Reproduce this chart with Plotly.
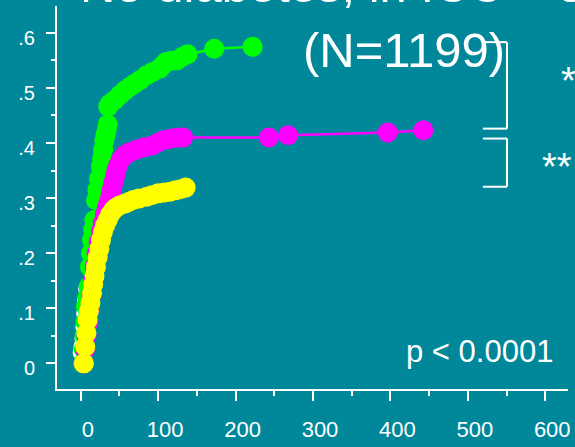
import plotly.graph_objects as go

# Cumulative incidence by group (days vs. proportion)
green_x = [3, 4, 5, 6, 6.7, 8.5, 10.2, 11.9, 13.2, 14.5, 16, 17.5, 19.6, 21.5, 23.5, 26, 27.5, 29,
           30.4, 32, 33.4, 34.8, 35.5, 37.7, 44, 50.6, 57, 63.6, 70, 76.5, 85, 93, 102, 106, 110,
           117, 124, 131, 138, 172.4, 222]
green_y = [0, 0.025, 0.05, 0.075, 0.103, 0.12, 0.139, 0.175, 0.2, 0.224, 0.242, 0.26, 0.296, 0.315,
           0.335, 0.357, 0.372, 0.388, 0.405, 0.415, 0.423, 0.434, 0.466, 0.471, 0.478, 0.487, 0.495,
           0.502, 0.508, 0.514, 0.523, 0.529, 0.535, 0.541, 0.547, 0.549, 0.55, 0.556, 0.561, 0.571,
           0.5746]

magenta_x = [4, 5.5, 7.5, 10, 12, 14, 16, 18, 20.5, 23, 26, 28.5, 31, 33.5, 35.5, 38, 39.9,
             42, 44.2, 46, 48.4, 52, 57.1, 63, 72, 82, 92, 99, 106.6, 114, 121.7, 127, 132.3, 243,
             267.7, 396.5, 442.5]
magenta_y = [0, 0.025, 0.05, 0.075, 0.1, 0.125, 0.15, 0.175, 0.2, 0.22, 0.24, 0.255, 0.27, 0.28,
             0.29, 0.303, 0.315, 0.328, 0.339, 0.35, 0.36, 0.37, 0.378, 0.383, 0.388, 0.392, 0.395,
             0.4, 0.405, 0.407, 0.409, 0.41, 0.41, 0.41, 0.414, 0.419, 0.423]

yellow_x = [4, 5.8, 7.3, 8.9, 10.5, 12.5, 14.5, 16, 17.8, 19.6, 21.8, 24, 26.1, 28.5, 31.5, 34.7, 38,
            42, 46, 50.6, 57, 62, 67.8, 75, 85.1, 92, 100.1, 108, 115.2, 122, 129, 135.5]
yellow_y = [0, 0.03, 0.055, 0.079, 0.095, 0.11, 0.127, 0.143, 0.159, 0.175, 0.192, 0.208, 0.224,
            0.238, 0.25, 0.26, 0.27, 0.278, 0.283, 0.287, 0.29, 0.293, 0.2964, 0.299, 0.3024, 0.305,
            0.3085, 0.31, 0.3114, 0.314, 0.316, 0.319]

white_x = [2.5, 3.5, 4.8, 6, 7, 8.2, 9.5]
white_y = [0.02, 0.03, 0.045, 0.065, 0.09, 0.115, 0.135]

x_ticks = [0, 100, 200, 300, 400, 500, 600]
y_ticks = [0, 0.1, 0.2, 0.3, 0.4, 0.5, 0.6]
y_tick_text = ["0", ".1", ".2", ".3", ".4", ".5", ".6"]

title_line1 = "No diabetes, in ICU – surgical"
title_line2 = "(N=1199)"
p_text = "p < 0.0001"

BG = "#00889A"
FONT = "Liberation Sans, Arial, sans-serif"

fig = go.Figure()
for xs, ys, col in [(white_x, white_y, "#FFFFFF"), (green_x, green_y, "#00FF00"),
                    (magenta_x, magenta_y, "#FF00FF"), (yellow_x, yellow_y, "#FFFF00")]:
    fig.add_trace(go.Scatter(
        x=xs, y=ys, mode="lines+markers",
        line=dict(color=col, width=2.5),
        marker=dict(color=col, size=20, line=dict(width=0)),
        showlegend=False, hoverinfo="skip", cliponaxis=False))

# Comparison brackets between the curve plateaus
bracket_style = dict(color="white", width=2)
for x0, y0, x1, y1 in [(519.4, 0.583, 550.6, 0.583), (550.6, 0.583, 550.6, 0.426),
                       (519.4, 0.426, 550.6, 0.426),
                       (519.4, 0.408, 550.6, 0.408), (550.6, 0.408, 550.6, 0.3205),
                       (519.4, 0.3205, 550.6, 0.3205)]:
    fig.add_shape(type="line", xref="x", yref="y", x0=x0, y0=y0, x1=x1, y1=y1,
                  line=bracket_style)

W, H = 575, 447
L, R, T, B = 57, 7, 6, 58
pw, ph = W - L - R, H - T - B


def px(x):
    return (x - L) / pw


def py(y):
    return (H - B - y) / ph


annos = [
    dict(text=title_line1, x=px(404), y=py(-15), size=49),
    dict(text=title_line2, x=px(404), y=py(50), size=49),
    dict(text=p_text, x=px(479), y=py(351), size=31),
    dict(text="*", x=px(559), y=py(81), size=38, xanchor="left"),
    dict(text="**", x=px(540), y=py(167), size=38, xanchor="left"),
]
for a in annos:
    fig.add_annotation(text=a["text"], xref="paper", yref="paper", x=a["x"], y=a["y"],
                       xanchor=a.get("xanchor", "center"), yanchor="middle", showarrow=False,
                       font=dict(family=FONT, size=a["size"], color="white"))

fig.update_layout(
    width=W, height=H,
    margin=dict(l=L, r=R, t=T, b=B, pad=0, autoexpand=False),
    paper_bgcolor=BG, plot_bgcolor=BG,
    font=dict(family=FONT, color="white"),
    xaxis=dict(range=[-30.7, 629.4], tickvals=x_ticks, showgrid=False, zeroline=False,
               automargin=False,
               showline=True, linecolor="white", linewidth=2,
               ticks="outside", ticklen=10, tickwidth=2, tickcolor="white",
               minor=dict(dtick=50, tick0=0, ticks="outside", ticklen=5, tickwidth=2,
                          tickcolor="white", showgrid=False),
               tickfont=dict(size=22, color="white", family=FONT),
               ticklabelshift=7, ticklabelstandoff=10),
    yaxis=dict(range=[-0.0466, 0.6486], tickvals=y_ticks, ticktext=y_tick_text,
               showgrid=False, zeroline=False, automargin=False,
               showline=True, linecolor="white", linewidth=2,
               ticks="outside", ticklen=9, tickwidth=2, tickcolor="white",
               minor=dict(dtick=0.05, tick0=0, ticks="outside", ticklen=4, tickwidth=2,
                          tickcolor="white", showgrid=False),
               tickfont=dict(size=20, color="white", family=FONT),
               ticklabelshift=5, ticklabelstandoff=7),
)

fig.write_html("out.html")
